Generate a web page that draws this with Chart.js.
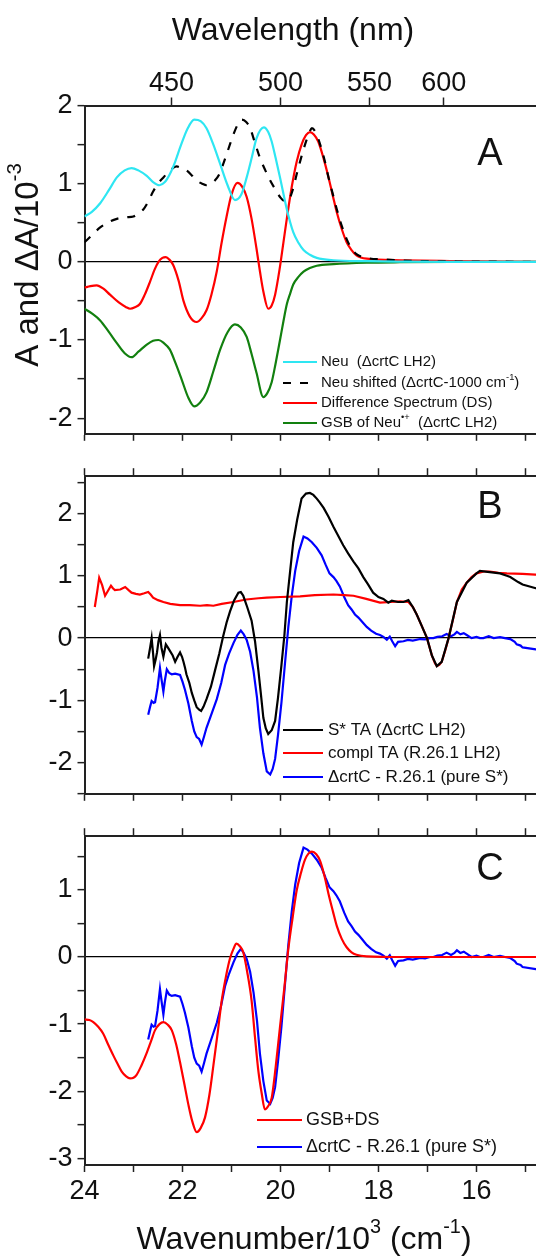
<!DOCTYPE html>
<html>
<head>
<meta charset="utf-8">
<script src="https://cdn.jsdelivr.net/npm/chart.js@4.4.1/dist/chart.umd.min.js"></script>
<style>
  html, body { margin: 0; padding: 0; background: #fff; }
  #wrap { position: relative; width: 536px; height: 1257px; overflow: hidden; }
  canvas { position: absolute; left: 0; }
</style>
</head>
<body>
<div id="wrap">
  <canvas id="panelA" width="580" height="455" style="top:0px"></canvas>
  <canvas id="panelB" width="580" height="360" style="top:455px"></canvas>
  <canvas id="panelC" width="580" height="442" style="top:815px"></canvas>
</div>
<script>
// wavenumber axis in 10^3 cm-1, values in 10^-3
const wavelengthTicks = [450, 500, 550, 600];

// panel A
const neuWn = [24, 23.85, 23.68, 23.5, 23.34, 23.18, 23.04, 22.9, 22.73, 22.6, 22.47, 22.36, 22.26, 22.15, 22.05, 21.9, 21.76, 21.63, 21.51, 21.37, 21.23, 21.08, 20.93, 20.8, 20.69, 20.58, 20.49, 20.34, 20.25, 20.18, 20.1, 20.01, 19.87, 19.74, 19.63, 19.53, 19.4, 19.26, 18.92, 18.24, 17.5, 16.5, 14.5];
const neuA = [0.58, 0.64, 0.75, 0.92, 1.08, 1.17, 1.2, 1.17, 1.1, 1.02, 0.98, 1.02, 1.12, 1.28, 1.46, 1.7, 1.82, 1.8, 1.71, 1.5, 1.25, 0.98, 0.79, 0.86, 1.08, 1.35, 1.58, 1.72, 1.66, 1.54, 1.33, 1.08, 0.67, 0.38, 0.24, 0.15, 0.09, 0.05, 0.02, 0.008, 0.003, 0, 0];

const shiftWn = [24, 23.85, 23.68, 23.5, 23.34, 23.15, 23.0, 22.9, 22.8, 22.7, 22.6, 22.5, 22.39, 22.25, 22.12, 22.02, 21.92, 21.8, 21.71, 21.6, 21.51, 21.42, 21.34, 21.25, 21.17, 21.06, 20.96, 20.87, 20.79, 20.7, 20.62, 20.52, 20.42, 20.31, 20.21, 20.1, 20.01, 19.92, 19.84, 19.75, 19.67, 19.58, 19.5, 19.42, 19.36, 19.27, 19.19, 19.1, 19.02, 18.93, 18.85, 18.75, 18.65, 18.55, 18.45, 18.24, 17.9, 17.22, 16.5, 14.5];
const shiftA = [0.25, 0.34, 0.44, 0.51, 0.55, 0.57, 0.58, 0.62, 0.67, 0.77, 0.9, 1.0, 1.08, 1.17, 1.22, 1.2, 1.17, 1.1, 1.04, 1.0, 0.98, 1.0, 1.04, 1.12, 1.25, 1.45, 1.63, 1.76, 1.82, 1.79, 1.71, 1.52, 1.33, 1.17, 1.04, 0.92, 0.83, 0.78, 0.79, 0.92, 1.12, 1.33, 1.5, 1.64, 1.71, 1.64, 1.5, 1.3, 1.08, 0.86, 0.67, 0.46, 0.29, 0.17, 0.1, 0.05, 0.03, 0.012, 0.005, 0];

const dsWn = [24, 23.88, 23.75, 23.62, 23.48, 23.3, 23.15, 23.07, 22.97, 22.87, 22.77, 22.66, 22.57, 22.49, 22.41, 22.34, 22.27, 22.19, 22.08, 21.98, 21.85, 21.71, 21.61, 21.51, 21.41, 21.3, 21.2, 21.1, 21.0, 20.88, 20.78, 20.69, 20.59, 20.49, 20.42, 20.35, 20.25, 20.18, 20.11, 20.02, 19.94, 19.86, 19.77, 19.67, 19.57, 19.48, 19.4, 19.32, 19.23, 19.12, 19.02, 18.93, 18.85, 18.75, 18.65, 18.55, 18.45, 18.24, 17.56, 16.54, 15.5, 14.5];
const dsA = [-0.33, -0.31, -0.3, -0.34, -0.42, -0.52, -0.58, -0.6, -0.58, -0.54, -0.42, -0.25, -0.1, 0.0, 0.05, 0.06, 0.03, -0.04, -0.24, -0.5, -0.7, -0.77, -0.72, -0.62, -0.42, -0.12, 0.25, 0.58, 0.86, 1.01, 0.96, 0.83, 0.55, 0.17, -0.12, -0.38, -0.6, -0.56, -0.42, -0.1, 0.25, 0.6, 0.96, 1.28, 1.5, 1.62, 1.66, 1.63, 1.54, 1.32, 1.08, 0.84, 0.63, 0.42, 0.25, 0.15, 0.083, 0.04, 0.02, 0.01, 0.003, 0];

const gsbWn = [24, 23.85, 23.68, 23.5, 23.34, 23.18, 23.04, 22.9, 22.73, 22.6, 22.49, 22.38, 22.26, 22.14, 22.02, 21.88, 21.76, 21.64, 21.51, 21.37, 21.23, 21.08, 20.93, 20.81, 20.69, 20.59, 20.49, 20.35, 20.27, 20.18, 20.1, 20.01, 19.94, 19.87, 19.8, 19.74, 19.63, 19.53, 19.4, 19.26, 18.92, 18.24, 17.56, 16.5, 14.5];
const gsbA = [-0.6, -0.66, -0.75, -0.9, -1.04, -1.17, -1.22, -1.15, -1.06, -1.01, -1.0, -1.04, -1.12, -1.3, -1.5, -1.74, -1.85, -1.8, -1.67, -1.4, -1.12, -0.9, -0.8, -0.84, -0.96, -1.18, -1.42, -1.73, -1.68, -1.54, -1.3, -1.0, -0.76, -0.54, -0.4, -0.29, -0.19, -0.125, -0.08, -0.05, -0.03, -0.012, -0.005, 0, 0];

// panel B
const sTaWn = [22.7, 22.66, 22.63, 22.6, 22.58, 22.55, 22.52, 22.49, 22.46, 22.43, 22.39, 22.36, 22.34, 22.3, 22.26, 22.2, 22.15, 22.1, 22.05, 22.01, 21.98, 21.95, 21.92, 21.86, 21.81, 21.76, 21.71, 21.66, 21.62, 21.57, 21.51, 21.42, 21.34, 21.25, 21.17, 21.1, 21.03, 20.95, 20.86, 20.81, 20.76, 20.68, 20.59, 20.52, 20.45, 20.4, 20.35, 20.3, 20.25, 20.18, 20.11, 20.05, 19.98, 19.92, 19.87, 19.8, 19.74, 19.66, 19.57, 19.48, 19.4, 19.33, 19.26, 19.2, 19.12, 19.02, 18.92, 18.82, 18.72, 18.62, 18.51, 18.41, 18.31, 18.21, 18.11, 18.0, 17.9, 17.8, 17.73, 17.6, 17.49, 17.39, 17.3, 17.22, 17.12, 17.01, 16.91, 16.81, 16.71, 16.57, 16.4, 16.2, 16.0, 15.93, 15.73, 15.52, 15.38, 15.31, 15.15, 15.06, 14.79, 14.5];
const sTaA = [-0.33, -0.15, 0.0, -0.25, -0.45, -0.35, -0.23, -0.05, 0.05, -0.15, -0.3, -0.18, -0.1, -0.15, -0.2, -0.28, -0.38, -0.3, -0.23, -0.3, -0.38, -0.47, -0.58, -0.72, -0.88, -1.0, -1.11, -1.15, -1.17, -1.1, -0.98, -0.78, -0.53, -0.25, 0.03, 0.25, 0.43, 0.6, 0.73, 0.74, 0.68, 0.5, 0.28, -0.05, -0.53, -0.9, -1.28, -1.45, -1.54, -1.48, -1.33, -0.95, -0.43, 0.05, 0.58, 1.1, 1.54, 1.9, 2.24, 2.32, 2.33, 2.3, 2.24, 2.18, 2.09, 1.95, 1.79, 1.64, 1.49, 1.36, 1.23, 1.12, 0.98, 0.86, 0.73, 0.66, 0.63, 0.57, 0.6, 0.58, 0.58, 0.61, 0.5, 0.38, 0.2, 0.0, -0.28, -0.45, -0.38, 0.0, 0.58, 0.89, 1.04, 1.08, 1.06, 1.04, 1.0, 0.98, 0.9, 0.86, 0.8, 0.76];

const complWn = [23.79, 23.74, 23.7, 23.64, 23.58, 23.52, 23.46, 23.42, 23.38, 23.27, 23.17, 23.1, 23.04, 22.95, 22.87, 22.78, 22.7, 22.65, 22.6, 22.5, 22.39, 22.25, 22.05, 21.85, 21.64, 21.5, 21.37, 21.2, 20.96, 20.7, 20.45, 20.28, 20.0, 19.6, 19.3, 18.92, 18.7, 18.51, 18.25, 17.97, 17.75, 17.56, 17.39, 17.3, 17.22, 17.12, 17.01, 16.91, 16.85, 16.81, 16.76, 16.71, 16.64, 16.57, 16.48, 16.4, 16.3, 16.2, 16.1, 16.0, 15.85, 15.73, 15.55, 15.38, 15.06, 14.8, 14.5];
const complA = [0.5, 0.75, 0.97, 0.85, 0.68, 0.76, 0.84, 0.8, 0.77, 0.78, 0.82, 0.77, 0.73, 0.71, 0.7, 0.72, 0.74, 0.7, 0.65, 0.61, 0.58, 0.55, 0.53, 0.53, 0.52, 0.53, 0.52, 0.55, 0.58, 0.62, 0.64, 0.65, 0.66, 0.67, 0.69, 0.7, 0.69, 0.68, 0.63, 0.57, 0.58, 0.59, 0.58, 0.5, 0.38, 0.2, 0.0, -0.28, -0.4, -0.45, -0.43, -0.38, -0.2, 0.0, 0.3, 0.58, 0.78, 0.89, 0.98, 1.04, 1.07, 1.07, 1.05, 1.04, 1.03, 1.02, 1.01];

// pure S* (panels B and C)
const pureWn = [22.7, 22.66, 22.63, 22.59, 22.56, 22.51, 22.46, 22.43, 22.39, 22.36, 22.32, 22.27, 22.22, 22.15, 22.05, 22.0, 21.95, 21.88, 21.81, 21.76, 21.71, 21.66, 21.61, 21.56, 21.51, 21.4, 21.3, 21.21, 21.13, 21.05, 20.96, 20.88, 20.81, 20.75, 20.69, 20.62, 20.55, 20.48, 20.42, 20.35, 20.28, 20.21, 20.16, 20.11, 20.05, 19.98, 19.91, 19.84, 19.77, 19.7, 19.62, 19.53, 19.45, 19.36, 19.26, 19.16, 19.08, 19.0, 18.92, 18.86, 18.79, 18.7, 18.62, 18.55, 18.48, 18.41, 18.33, 18.24, 18.15, 18.05, 17.97, 17.9, 17.83, 17.77, 17.72, 17.66, 17.6, 17.49, 17.4, 17.3, 17.15, 17.05, 16.95, 16.88, 16.8, 16.7, 16.61, 16.52, 16.45, 16.4, 16.33, 16.26, 16.2, 16.1, 16.0, 15.93, 15.86, 15.75, 15.65, 15.52, 15.42, 15.31, 15.22, 15.18, 15.1, 15.06, 14.79, 14.5];
const pureA = [-1.23, -1.1, -1.01, -1.04, -1.03, -0.8, -0.48, -0.65, -0.86, -0.68, -0.5, -0.56, -0.58, -0.57, -0.59, -0.7, -0.83, -1.05, -1.33, -1.5, -1.59, -1.62, -1.71, -1.58, -1.44, -1.2, -0.98, -0.72, -0.43, -0.25, -0.08, 0.05, 0.12, 0.06, -0.03, -0.22, -0.53, -0.95, -1.44, -1.85, -2.14, -2.19, -2.1, -1.94, -1.55, -1.03, -0.42, 0.18, 0.68, 1.08, 1.4, 1.63, 1.6, 1.54, 1.45, 1.33, 1.18, 1.04, 0.98, 0.92, 0.83, 0.66, 0.53, 0.46, 0.38, 0.33, 0.26, 0.18, 0.12, 0.07, 0.05, 0.02, -0.025, 0.025, -0.05, -0.13, -0.06, -0.05, -0.03, -0.04, -0.015, -0.02, 0.0, 0.0, 0.02, 0.03, 0.065, 0.03, 0.06, 0.1, 0.06, 0.08, 0.05, 0.0, 0.02, 0.0, 0.0, 0.03, 0.0, 0.015, 0.0, -0.015, -0.06, -0.1, -0.12, -0.15, -0.18, -0.2];

// panel C
const sumWn = [24, 23.9, 23.82, 23.72, 23.62, 23.52, 23.41, 23.32, 23.24, 23.15, 23.07, 23.0, 22.94, 22.84, 22.73, 22.64, 22.56, 22.47, 22.39, 22.3, 22.22, 22.13, 22.05, 21.96, 21.88, 21.8, 21.71, 21.63, 21.54, 21.45, 21.37, 21.28, 21.2, 21.11, 21.03, 20.96, 20.9, 20.83, 20.76, 20.68, 20.59, 20.52, 20.45, 20.38, 20.32, 20.25, 20.18, 20.1, 20.01, 19.92, 19.84, 19.75, 19.67, 19.58, 19.5, 19.43, 19.36, 19.27, 19.19, 19.1, 19.02, 18.93, 18.85, 18.75, 18.65, 18.55, 18.45, 18.24, 17.5, 14.5];
const sumA = [-0.93, -0.94, -0.97, -1.04, -1.14, -1.3, -1.47, -1.6, -1.71, -1.78, -1.81, -1.8, -1.76, -1.62, -1.43, -1.25, -1.09, -1.0, -0.97, -1.01, -1.09, -1.3, -1.57, -1.9, -2.2, -2.45, -2.61, -2.55, -2.39, -2.05, -1.62, -1.12, -0.65, -0.28, -0.02, 0.12, 0.2, 0.16, 0.07, -0.22, -0.65, -1.2, -1.71, -2.05, -2.27, -2.22, -2.1, -1.65, -1.04, -0.45, 0.12, 0.6, 0.99, 1.26, 1.45, 1.54, 1.57, 1.53, 1.43, 1.2, 0.94, 0.68, 0.46, 0.27, 0.145, 0.07, 0.034, 0.01, 0, 0];

// legend texts: [text, superscript?]
const legendA = [
  [['Neu  (ΔcrtC LH2)', false]],
  [['Neu shifted (ΔcrtC-1000 cm', false], ['-1', true], [')', false]],
  [['Difference Spectrum (DS)', false]],
  [['GSB of Neu', false], ['•+', true], ['  (ΔcrtC LH2)', false]]
];
const legendB = [
  [['S* TA (ΔcrtC LH2)', false]],
  [['compl TA (R.26.1 LH2)', false]],
  [['ΔcrtC - R.26.1 (pure S*)', false]]
];
const legendC = [
  [['GSB+DS', false]],
  [['ΔcrtC - R.26.1 (pure S*)', false]]
];

const FONT = '"Liberation Sans", Arial, sans-serif';
Chart.defaults.font.family = FONT;
Chart.defaults.color = '#111';

function pts(xs, ys) {
  return xs.map((x, i) => ({ x: x, y: ys[i] }));
}

function line(label, xs, ys, color, smooth, dash) {
  return {
    label: label,
    data: pts(xs, ys),
    borderColor: color,
    borderWidth: 2.2,
    borderDash: dash || [],
    pointRadius: 0,
    fill: false,
    cubicInterpolationMode: smooth ? 'monotone' : 'default',
    tension: 0,
    xAxisID: 'x',
    yAxisID: 'y'
  };
}

function drawRich(ctx, parts, x, y, size, align) {
  let w = 0;
  parts.forEach(p => {
    ctx.font = (p[1] ? size * 0.62 : size) + 'px ' + FONT;
    w += ctx.measureText(p[0]).width;
  });
  let cx = align === 'center' ? x - w / 2 : x;
  ctx.textAlign = 'left';
  ctx.textBaseline = 'middle';
  ctx.fillStyle = '#111';
  parts.forEach(p => {
    ctx.font = (p[1] ? size * 0.62 : size) + 'px ' + FONT;
    ctx.fillText(p[0], cx, p[1] ? y - size * 0.4 : y);
    cx += ctx.measureText(p[0]).width;
  });
}

function drawLegend(chart, labels, x1, x2, tx, ys, size) {
  const ctx = chart.ctx;
  labels.forEach((parts, i) => {
    const ds = chart.data.datasets[i];
    ctx.save();
    ctx.strokeStyle = ds.borderColor;
    ctx.lineWidth = ds.borderWidth;
    ctx.setLineDash(ds.borderDash || []);
    ctx.beginPath();
    ctx.moveTo(x1, ys[i]);
    ctx.lineTo(x2, ys[i]);
    ctx.stroke();
    ctx.restore();
    drawRich(ctx, parts, tx, ys[i], size, 'left');
  });
}

function makePanel(id, datasets, yMin, yMax, sizes, isTopWavelength, showXLabels, extraDraw) {
  const tickFont = { size: 27 };
  const xTop = {
    type: 'linear',
    position: 'top',
    min: 14, max: 24, reverse: true,
    grid: { drawOnChartArea: false, tickLength: 8, tickColor: '#222', tickWidth: 1.5 },
    border: { display: true, color: '#222', width: 2 },
    ticks: {
      stepSize: 1,
      font: tickFont,
      padding: -2,
      callback: () => ''
    },
    afterFit: s => { s.height = sizes.top; }
  };
  if (isTopWavelength) {
    xTop.afterBuildTicks = s => { s.ticks = wavelengthTicks.map(nm => ({ value: 10000 / nm })); };
    xTop.ticks.callback = v => String(Math.round(10000 / v));
  }
  return new Chart(document.getElementById(id), {
    type: 'line',
    data: { datasets: datasets },
    options: {
      responsive: false,
      animation: false,
      layout: { padding: { left: 0, right: 5.5, top: 0, bottom: 0 } },
      plugins: { legend: { display: false }, tooltip: { enabled: false } },
      scales: {
        x: {
          type: 'linear',
          position: 'bottom',
          min: 14, max: 24, reverse: true,
          grid: { drawOnChartArea: false, tickLength: 7, tickColor: '#222', tickWidth: 1.5 },
          border: { display: true, color: '#222', width: 2 },
          ticks: {
            stepSize: 1,
            font: tickFont,
            padding: 3,
            maxRotation: 0,
            autoSkip: false,
            callback: v => (showXLabels && v % 2 === 0 && v >= 16) ? String(v) : ''
          },
          afterFit: s => { s.height = sizes.bottom; }
        },
        xTop: xTop,
        y: {
          type: 'linear',
          min: yMin, max: yMax,
          grid: {
            color: c => (c.tick && c.tick.value === 0) ? '#000' : 'rgba(0,0,0,0)',
            lineWidth: 1.3,
            tickColor: '#222',
            tickWidth: 1.5,
            tickLength: 7
          },
          border: { display: true, color: '#222', width: 2 },
          ticks: {
            stepSize: 0.5,
            includeBounds: false,
            font: tickFont,
            padding: 5,
            autoSkip: false,
            callback: v => Number.isInteger(v) ? String(v) : ''
          },
          afterFit: s => { s.width = 84.5; }
        }
      }
    },
    plugins: [{ id: 'panelText', afterDraw: extraDraw }]
  });
}

makePanel('panelA', [
  line('Neu', neuWn, neuA, '#2ee6f2', true),
  line('Neu shifted', shiftWn, shiftA, '#000000', true, [8, 9]),
  line('Difference Spectrum (DS)', dsWn, dsA, '#ff0000', true),
  line('GSB of Neu', gsbWn, gsbA, '#12800f', true)
], -2.2, 2.0, { top: 105.5, bottom: 11.5 }, true, false, chart => {
  const ctx = chart.ctx;
  ctx.save();
  ctx.font = '32px ' + FONT;
  ctx.fillStyle = '#111';
  ctx.textAlign = 'center';
  ctx.textBaseline = 'middle';
  ctx.fillText('Wavelength (nm)', 293, 31);
  ctx.font = '38px ' + FONT;
  ctx.fillText('A', 490, 155);
  ctx.translate(29, 265);
  ctx.rotate(-Math.PI / 2);
  drawRich(ctx, [['A and ΔA/10', false], ['-3', true]], 0, 0, 33, 'center');
  ctx.restore();
  drawLegend(chart, legendA, 283, 317, 321, [362, 383, 403, 423], 15);
});

makePanel('panelB', [
  line('S* TA', sTaWn, sTaA, '#000000', false),
  line('compl TA', complWn, complA, '#ff0000', false),
  line('pure S*', pureWn, pureA, '#0000ff', false)
], -2.5, 2.6, { top: 11, bottom: 10.5 }, false, false, chart => {
  const ctx = chart.ctx;
  ctx.save();
  ctx.font = '38px ' + FONT;
  ctx.fillStyle = '#111';
  ctx.textAlign = 'center';
  ctx.textBaseline = 'middle';
  ctx.fillText('B', 490, 53);
  ctx.restore();
  drawLegend(chart, legendB, 283, 323, 328, [275, 298, 322], 17);
});

makePanel('panelC', [
  line('GSB+DS', sumWn, sumA, '#ff0000', true),
  line('pure S*', pureWn, pureA, '#0000ff', false)
], -3.1, 1.8, { top: 12, bottom: 92 }, false, true, chart => {
  const ctx = chart.ctx;
  ctx.save();
  ctx.font = '38px ' + FONT;
  ctx.fillStyle = '#111';
  ctx.textAlign = 'center';
  ctx.textBaseline = 'middle';
  ctx.fillText('C', 490, 55);
  drawRich(ctx, [['Wavenumber/10', false], ['3', true], [' (cm', false], ['-1', true], [')', false]], 304, 425, 32, 'center');
  ctx.restore();
  drawLegend(chart, legendC, 257, 302, 306, [305, 332], 18);
});
</script>
</body>
</html>
